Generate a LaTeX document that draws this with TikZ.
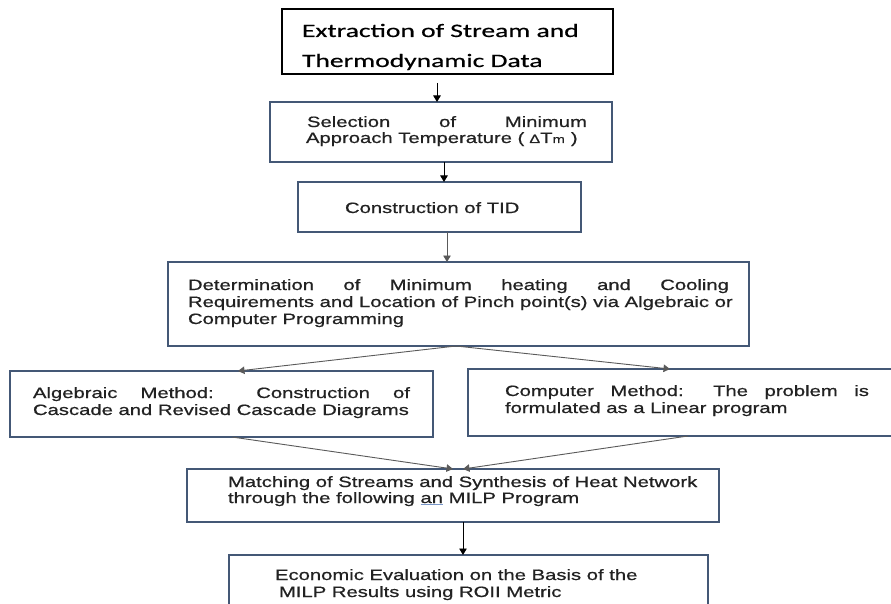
\documentclass[tikz,border=0pt]{standalone}
\usepackage{fontspec}
\setmainfont{Liberation Sans}[FakeStretch=1.35,FakeBold=0.7]
\newfontfamily\calib{Carlito}[FakeStretch=1.45,FakeBold=0.5]
\usetikzlibrary{arrows.meta}
\definecolor{boxblue}{RGB}{68,88,118}
\definecolor{txt}{RGB}{34,34,34}
\definecolor{linegray}{RGB}{90,90,90}
\definecolor{ulblue}{RGB}{120,150,200}
\tikzset{
  box/.style={draw=boxblue, line width=1.3pt, rectangle, inner sep=0pt, outer sep=0pt, anchor=north west},
  blackbox/.style={box, draw=black, line width=1.2pt},
  txtline/.style={anchor=base west, inner sep=0pt, outer sep=0pt, text=txt, font=\fontsize{15}{17}\selectfont},
  bigline/.style={anchor=base west, inner sep=0pt, outer sep=0pt, text=black, font=\calib\fontsize{19}{22}\selectfont},
  arr/.style={-{Triangle[length=6.5pt,width=7.5pt]}, line width=0.9pt, draw=black},
  garr/.style={-{Triangle[length=6.5pt,width=7.5pt]}, line width=0.9pt, draw=linegray}
}
\begin{document}
\begin{tikzpicture}[x=1pt,y=-1pt]
\useasboundingbox (0,0) rectangle (891,604);
\clip (0,0) rectangle (891,604);
\fill[white] (0,0) rectangle (891,604);

% boxes
\node[blackbox, minimum width=331pt, minimum height=65pt] (b1) at (282,9) {};
\node[box, minimum width=342pt, minimum height=60pt] (b2) at (270,102) {};
\node[box, minimum width=283pt, minimum height=50pt] (b3) at (298,182) {};
\node[box, minimum width=581pt, minimum height=84pt] (b4) at (168,262) {};
\node[box, minimum width=423pt, minimum height=66pt] (b5l) at (10,371) {};
\node[box, minimum width=430pt, minimum height=67pt] (b5r) at (468,369) {};
\node[box, minimum width=532pt, minimum height=53pt] (b6) at (187,469) {};
\node[box, minimum width=479pt, minimum height=70pt] (b7) at (229,555) {};

% texts
\node[bigline] (t1a) at (302,37) {Extraction of Stream and};
\node[bigline] (t1b) at (302,67) {Thermodynamic Data};

\node[txtline] (t2a) at (307,127) {\makebox[280pt][s]{Selection of Minimum}};
\node[txtline] (t2b) at (306,143) {Approach Temperature (\hspace{5pt}{\fontsize{12}{14}\selectfont Δ}T{\fontsize{11}{13}\selectfont m}\hspace{6pt})};

\node[txtline] (t3) at (345,213) {Construction of TID};

\node[txtline] (t4a) at (188,290) {\makebox[541pt][s]{Determination of Minimum heating and Cooling}};
\node[txtline] (t4b) at (188,307) {Requirements and Location of Pinch point(s) via Algebraic or};
\node[txtline] (t4c) at (188,324) {Computer Programming};

\node[txtline] (t5la) at (33,398) {\makebox[377pt][s]{Algebraic Method: Construction of}};
\node[txtline] (t5lb) at (33,415) {Cascade and Revised Cascade Diagrams};

\node[txtline] (t5ra) at (505,396) {\makebox[364pt][s]{Computer Method: The problem is}};
\node[txtline] (t5rb) at (505,413) {formulated as a Linear program};

\node[txtline] (t6a) at (228,487) {Matching of Streams and Synthesis of Heat Network};
\node[txtline] (t6b) at (228,503) {through the following {\color{ulblue}\underline{\color{txt}an}} MILP Program};

\node[txtline] (t7a) at (275,580) {Economic Evaluation on the Basis of the};
\node[txtline] (t7b) at (279,597) {MILP Results using ROII Metric};

% connectors
\draw[arr, shorten <=9pt] ([xshift=-10.5pt]b1.south) -- ([xshift=-4pt]b2.north);
\draw[arr] ([xshift=3pt]b2.south) -- ([xshift=4.5pt]b3.north);
\draw[garr] ([xshift=7.5pt]b3.south) -- ([xshift=-11.5pt]b4.north);
\draw[garr] ([xshift=-2.5pt]b4.south) -- ([xshift=16.5pt]b5l.north);
\draw[garr] ([xshift=-2.5pt]b4.south) -- ([xshift=-13pt]b5r.north);
\draw[garr] ([xshift=10.5pt]b5l.south) -- (b6.north);
\draw[garr] ([xshift=5pt]b5r.south) -- ([xshift=10pt]b6.north);
\draw[arr] ([xshift=10pt]b6.south) -- ([xshift=-5.5pt]b7.north);
\end{tikzpicture}
\end{document}
